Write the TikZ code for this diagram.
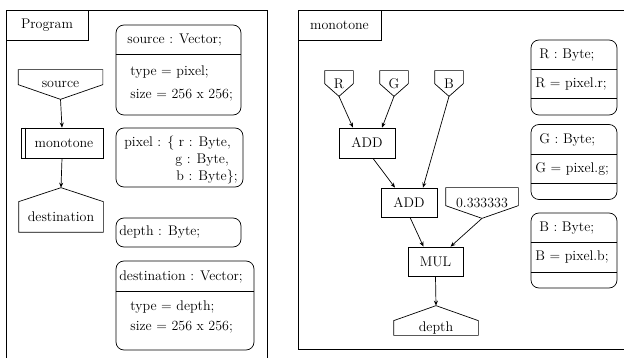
\documentclass[tikz,border=0pt]{standalone}
\usetikzlibrary{arrows.meta}

\tikzset{
  every node/.style={font=\fontsize{14}{16}\selectfont},
  frame/.style={draw, line width=0.8pt},
  blk/.style={draw, rectangle, inner sep=0pt},
  % input port: box with a point at the bottom, #1 = height of the straight sides
  inport/.style={rectangle, inner sep=0pt, append after command={\pgfextra{
    \draw (\tikzlastnode.north west) -- ([yshift=-#1]\tikzlastnode.north west)
      -- (\tikzlastnode.south) -- ([yshift=-#1]\tikzlastnode.north east)
      -- (\tikzlastnode.north east) -- cycle;}}},
  % output port: box with a point on top, #1 = height of the point
  outport/.style={rectangle, inner sep=0pt, append after command={\pgfextra{
    \draw (\tikzlastnode.south west) -- (\tikzlastnode.north west)
      -- ([yshift=#1]\tikzlastnode.north)
      -- (\tikzlastnode.north east) -- (\tikzlastnode.south east) -- cycle;
    \coordinate (\tikzlastnode-tip) at ([yshift=#1]\tikzlastnode.north);}}},
  decl/.style={draw, rectangle, rounded corners=8pt, inner sep=0pt},
  txt/.style={anchor=west, inner sep=0pt},
  flow/.style={-{Stealth[length=5pt,width=4pt]}},
}

\begin{document}
\begin{tikzpicture}[x=1pt, y=-1pt, line width=0.7pt]
  \useasboundingbox (0,0) rectangle (624,358);

  % program frame
  \draw[frame] (6,370) -- (6,10) -- (267,10) -- (267,370);
  \node[blk, minimum width=82, minimum height=30] (progtitle) at (47,25) {Program};

  \node[inport=15, minimum width=84, minimum height=29] (src) at (60.5,84.5) {source};
  \node[blk, minimum width=82, minimum height=30] (mono) at (62,143) {\hspace{4pt}monotone};
  \draw ([xshift=5]mono.north west) -- ([xshift=5]mono.south west);
  \node[outport=14, minimum width=84, minimum height=30] (dst) at (61,217) {destination};

  \draw[flow] (src.south) -- (mono.north);
  \draw[flow] (mono.south) -- (dst-tip);

  % declarations
  \node[decl, minimum width=125, minimum height=90] (srcdecl) at (178.5,70) {};
  \draw (srcdecl.west |- 0,54) -- (srcdecl.east |- 0,54);
  \node[txt] (srcname) at (127,40) {source : Vector;};
  \node[txt] (srctype) at (130,72) {type = pixel;};
  \node[txt] (srcsize) at (130,95) {size = 256 x 256;};

  \node[decl, minimum width=127, minimum height=59] (pixdecl) at (179.5,157.5) {};
  \node[txt] (pixr) at (124,143) {pixel : \{ r : Byte,};
  \node[txt] (pixg) at (175,160) {g : Byte,};
  \node[txt] (pixb) at (176,177) {b : Byte\};};

  \node[decl, minimum width=125, minimum height=29] (depdecl) at (178.5,232.5) {};
  \node[txt] (depname) at (119,232) {depth : Byte;};

  \node[decl, minimum width=138, minimum height=89] (dstdecl) at (185,305.5) {};
  \draw (dstdecl.west |- 0,291) -- (dstdecl.east |- 0,291);
  \node[txt] (dstname) at (119,277) {destination : Vector;};
  \node[txt] (dsttype) at (130,307) {type = depth;};
  \node[txt] (dstsize) at (130,327) {size = 256 x 256;};

  % monotone frame
  \draw[frame] (630,10) -- (298,10) -- (298,349) -- (630,349);
  \node[blk, minimum width=83, minimum height=30] (montitle) at (339.5,25) {monotone};

  \node[inport=13, minimum width=28, minimum height=25] (r) at (339,83.5) {R};
  \node[inport=13, minimum width=28, minimum height=25] (g) at (394,83.5) {G};
  \node[inport=13, minimum width=28, minimum height=25] (b) at (449,83.5) {B};
  \node[blk, minimum width=56, minimum height=30] (add1) at (367,143) {ADD};
  \node[blk, minimum width=56, minimum height=29] (add2) at (409,202.5) {ADD};
  \node[inport=18, minimum width=72, minimum height=30] (third) at (482,203) {0.333333};
  \node[blk, minimum width=55, minimum height=29] (mul) at (435.5,261.5) {MUL};
  \node[outport=15, minimum width=84, minimum height=14] (depth) at (436,328) {depth};

  \draw[flow] (r.south) -- ([xshift=-14]add1.north);
  \draw[flow] (g.south) -- ([xshift=15]add1.north);
  \draw[flow] ([xshift=6]add1.south) -- ([xshift=-14]add2.north);
  \draw[flow] (b.south) -- ([xshift=14]add2.north);
  \draw[flow] ([xshift=1]add2.south) -- ([xshift=-12]mul.north);
  \draw[flow] (third.south) -- ([xshift=15]mul.north);
  \draw[flow] (mul.south) -- (depth-tip);

  % channel declarations
  \node[decl, minimum width=86, minimum height=75] (rdecl) at (574,77.5) {};
  \draw (rdecl.west |- 0,69) -- (rdecl.east |- 0,69);
  \draw (rdecl.west |- 0,98) -- (rdecl.east |- 0,98);
  \node[txt] (rname) at (539,55) {R : Byte;};
  \node[txt] (rval) at (535,84) {R = pixel.r;};

  \node[decl, minimum width=86, minimum height=75] (gdecl) at (574,162) {};
  \draw (gdecl.west |- 0,154) -- (gdecl.east |- 0,154);
  \draw (gdecl.west |- 0,183) -- (gdecl.east |- 0,183);
  \node[txt] (gname) at (539,140) {G : Byte;};
  \node[txt] (gval) at (535,169) {G = pixel.g;};

  \node[decl, minimum width=86, minimum height=75] (bdecl) at (574,250.5) {};
  \draw (bdecl.west |- 0,242) -- (bdecl.east |- 0,242);
  \draw (bdecl.west |- 0,272) -- (bdecl.east |- 0,272);
  \node[txt] (bname) at (539,228) {B : Byte;};
  \node[txt] (bval) at (535,257) {B = pixel.b;};
\end{tikzpicture}
\end{document}
